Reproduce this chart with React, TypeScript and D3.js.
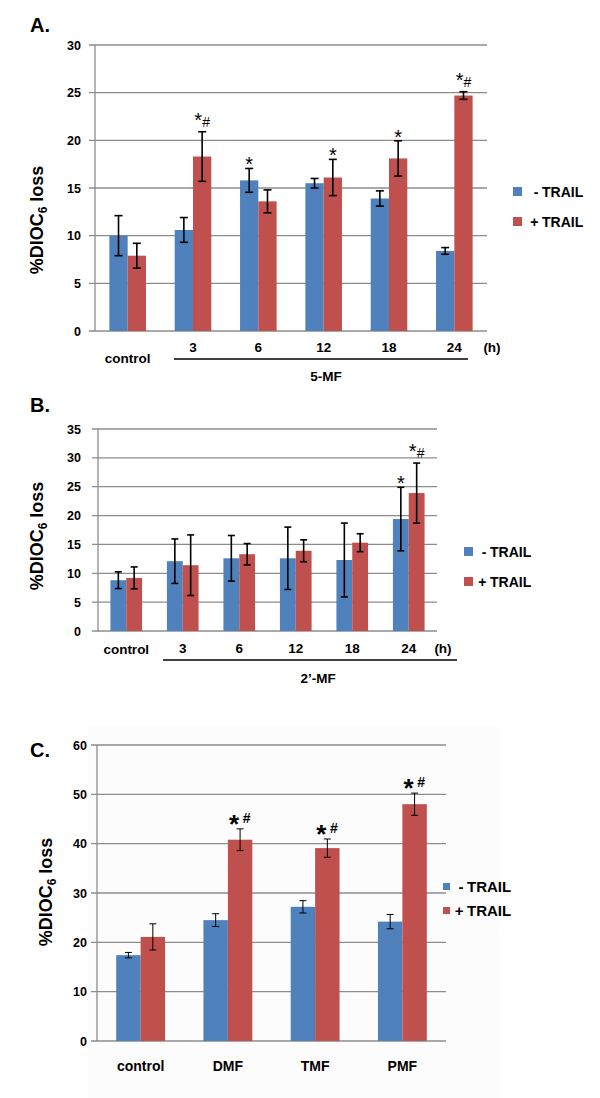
import React from "react";
import * as d3 from "d3";

const FONT = "'Liberation Sans', Arial, Helvetica, sans-serif";
const BLUE = "#4F81BD";
const RED = "#C0504D";
const GRID = "#8C8C8C";

// ---------- Panel A data ----------
const catsA = ["control", "3", "6", "12", "18", "24"];
const minusA = [10.0, 10.6, 15.8, 15.5, 13.9, 8.4];
const minusErrA = [2.1, 1.3, 1.25, 0.5, 0.8, 0.35];
const plusA = [7.9, 18.3, 13.6, 16.1, 18.1, 24.7];
const plusErrA = [1.3, 2.6, 1.2, 1.9, 1.85, 0.4];
const minusSigA = ["", "", "*", "", "", ""];
const plusSigA = ["", "*#", "", "*", "*", "*#"];
const ticksA = [0, 5, 10, 15, 20, 25, 30];

// ---------- Panel B data ----------
const catsB = ["control", "3", "6", "12", "18", "24"];
const minusB = [8.8, 12.1, 12.6, 12.6, 12.3, 19.4];
const minusErrB = [1.45, 3.85, 3.95, 5.4, 6.4, 5.5];
const plusB = [9.2, 11.4, 13.3, 13.9, 15.3, 23.9];
const plusErrB = [1.9, 5.25, 1.85, 1.9, 1.55, 5.2];
const minusSigB = ["", "", "", "", "", "*"];
const plusSigB = ["", "", "", "", "", "*#"];
const ticksB = [0, 5, 10, 15, 20, 25, 30, 35];

// ---------- Panel C data ----------
const catsC = ["control", "DMF", "TMF", "PMF"];
const minusC = [17.4, 24.5, 27.2, 24.2];
const minusErrC = [0.55, 1.3, 1.25, 1.45];
const plusC = [21.1, 40.8, 39.1, 48.0];
const plusErrC = [2.65, 2.2, 1.85, 2.25];
const minusSigC = ["", "", "", ""];
const plusSigC = ["", "*#", "*#", "*#"];
const ticksC = [0, 10, 20, 30, 40, 50, 60];

const legendLabels = ["-", "+"];

type PanelProps = {
  letter: string;
  letterY: number;
  cats: string[];
  minus: number[];
  minusErr: number[];
  plus: number[];
  plusErr: number[];
  minusSig: string[];
  plusSig: string[];
  ticks: number[];
  x0: number;
  x1: number;
  yTop: number;
  yBottom: number;
  tickRight: number;
  errW: number;
  capW: number;
  boldSig: boolean;
  titleX: number;
  titleY: number;
  legend: { sq: number; sqX: number; y1: number; y2: number; tX: number; size: number };
  catLabels: (x: d3.ScaleBand<string>) => React.ReactNode;
};

function Panel(p: PanelProps) {
  const x = d3.scaleBand<string>().domain(p.cats).range([p.x0, p.x1]).padding(0);
  const y = d3
    .scaleLinear()
    .domain([0, p.ticks[p.ticks.length - 1]])
    .range([p.yBottom, p.yTop]);
  const bw = x.bandwidth() * 0.28;
  const series = [
    { vals: p.minus, errs: p.minusErr, sigs: p.minusSig, color: BLUE, off: -bw },
    { vals: p.plus, errs: p.plusErr, sigs: p.plusSig, color: RED, off: 0 },
  ];
  return (
    <g fontFamily={FONT}>
      <text x={30} y={p.letterY} fontSize={20} fontWeight="bold">
        {p.letter}
      </text>
      {p.ticks.map((t) => (
        <g key={t}>
          <line x1={p.x0 - 6} x2={p.x1} y1={y(t)} y2={y(t)} stroke={GRID} strokeWidth={1.3} />
          <text x={p.tickRight} y={y(t) + 4.5} textAnchor="end" fontSize={12.5} fontWeight="bold">
            {t}
          </text>
        </g>
      ))}
      <line x1={p.x0} x2={p.x0} y1={p.yTop} y2={p.yBottom} stroke={GRID} strokeWidth={1.3} />
      <text
        transform={`translate(${p.titleX},${p.titleY}) rotate(-90)`}
        textAnchor="middle"
        fontSize={18}
        fontWeight="bold"
      >
        %DIOC
        <tspan fontSize={12} dy={4}>6</tspan>
        <tspan dy={-4}> loss</tspan>
      </text>
      {series.map((s, si) =>
        p.cats.map((c, i) => {
          const cx = (x(c) as number) + x.bandwidth() / 2 + s.off;
          const v = s.vals[i];
          const e = s.errs[i];
          const mid = cx + bw / 2;
          const errTop = y(v + e);
          const sig = s.sigs[i];
          let sigEl: React.ReactNode = null;
          if (sig) {
            if (p.boldSig) {
              const base = errTop - 6;
              sigEl = (
                <g fontWeight="bold">
                  <text x={mid - 6} y={base + 10} textAnchor="middle" fontSize={26}>*</text>
                  <text x={mid + 6.5} y={base} textAnchor="middle" fontSize={14}>#</text>
                </g>
              );
            } else if (sig === "*") {
              sigEl = (
                <text x={mid} y={errTop + 3} textAnchor="middle" fontSize={20}>*</text>
              );
            } else {
              sigEl = (
                <text x={mid} y={errTop - 5} textAnchor="middle">
                  <tspan fontSize={20}>*</tspan>
                  <tspan fontSize={14}>#</tspan>
                </text>
              );
            }
          }
          return (
            <g key={`${si}-${c}`}>
              <rect x={cx} y={y(v)} width={bw} height={p.yBottom - y(v)} fill={s.color} />
              <line x1={mid} x2={mid} y1={y(v - e)} y2={errTop} stroke="#000" strokeWidth={p.errW} />
              <line x1={mid - p.capW / 2} x2={mid + p.capW / 2} y1={errTop} y2={errTop} stroke="#000" strokeWidth={p.errW} />
              <line x1={mid - p.capW / 2} x2={mid + p.capW / 2} y1={y(v - e)} y2={y(v - e)} stroke="#000" strokeWidth={p.errW} />
              {sigEl}
            </g>
          );
        })
      )}
      {[BLUE, RED].map((col, i) => {
        const ly = i === 0 ? p.legend.y1 : p.legend.y2;
        const L = p.legend;
        return (
          <g key={col} fontWeight="bold" fontSize={L.size}>
            <rect x={L.sqX} y={ly - L.sq / 2 - 0.5} width={L.sq} height={L.sq} fill={col} />
            <text x={L.tX - 3.5} y={ly + 5} textAnchor="end">{legendLabels[i]}</text>
            <text x={L.tX} y={ly + 5}>TRAIL</text>
          </g>
        );
      })}
      {p.catLabels(x)}
    </g>
  );
}

export default function App() {
  const cxOf = (x: d3.ScaleBand<string>, c: string) => (x(c) as number) + x.bandwidth() / 2;
  return (
    <svg
      width={600}
      height={1098}
      viewBox="0 0 600 1098"
      style={{ position: "absolute", left: 0, top: 0, background: "#fff" }}
    >
      <rect x={0} y={0} width={600} height={1098} fill="#fff" />
      <rect x={88} y={727} width={410} height={371} fill="#fcfcfc" />
      <Panel
        letter="A."
        letterY={32}
        cats={catsA}
        minus={minusA}
        minusErr={minusErrA}
        plus={plusA}
        plusErr={plusErrA}
        minusSig={minusSigA}
        plusSig={plusSigA}
        ticks={ticksA}
        x0={95}
        x1={487}
        yTop={45}
        yBottom={331}
        tickRight={81}
        errW={1.6}
        capW={8}
        boldSig={false}
        titleX={43}
        titleY={220}
        legend={{ sq: 9, sqX: 513, y1: 192, y2: 222, tX: 542, size: 14 }}
        catLabels={(x) => (
          <g fontWeight="bold" fontSize={13.5}>
            <text x={cxOf(x, "control")} y={363} textAnchor="middle">control</text>
            {catsA.slice(1).map((c) => (
              <text key={c} x={cxOf(x, c)} y={352} textAnchor="middle">{c}</text>
            ))}
            <text x={492} y={352} textAnchor="middle">(h)</text>
            <line x1={174} x2={468} y1={359} y2={359} stroke="#000" strokeWidth={1.5} />
            <text x={326} y={381} textAnchor="middle">5-MF</text>
          </g>
        )}
      />
      <Panel
        letter="B."
        letterY={412}
        cats={catsB}
        minus={minusB}
        minusErr={minusErrB}
        plus={plusB}
        plusErr={plusErrB}
        minusSig={minusSigB}
        plusSig={plusSigB}
        ticks={ticksB}
        x0={98}
        x1={437}
        yTop={429}
        yBottom={631}
        tickRight={81}
        errW={1.6}
        capW={7}
        boldSig={false}
        titleX={43}
        titleY={536}
        legend={{ sq: 9, sqX: 464, y1: 552, y2: 582, tX: 490, size: 14 }}
        catLabels={(x) => (
          <g fontWeight="bold" fontSize={13.5}>
            <text x={cxOf(x, "control")} y={654} textAnchor="middle">control</text>
            {catsB.slice(1).map((c) => (
              <text key={c} x={cxOf(x, c)} y={653} textAnchor="middle">{c}</text>
            ))}
            <text x={443} y={653} textAnchor="middle">(h)</text>
            <line x1={163} x2={457} y1={660} y2={660} stroke="#000" strokeWidth={1.5} />
            <text x={318} y={683} textAnchor="middle">2’-MF</text>
          </g>
        )}
      />
      <Panel
        letter="C."
        letterY={757}
        cats={catsC}
        minus={minusC}
        minusErr={minusErrC}
        plus={plusC}
        plusErr={plusErrC}
        minusSig={minusSigC}
        plusSig={plusSigC}
        ticks={ticksC}
        x0={97}
        x1={446}
        yTop={745}
        yBottom={1041}
        tickRight={87}
        errW={1}
        capW={7}
        boldSig={true}
        titleX={52}
        titleY={892}
        legend={{ sq: 7, sqX: 443, y1: 887, y2: 911, tX: 467, size: 15 }}
        catLabels={(x) => (
          <g fontWeight="bold" fontSize={14}>
            {catsC.map((c) => (
              <text key={c} x={cxOf(x, c)} y={1071} textAnchor="middle">{c}</text>
            ))}
          </g>
        )}
      />
    </svg>
  );
}
